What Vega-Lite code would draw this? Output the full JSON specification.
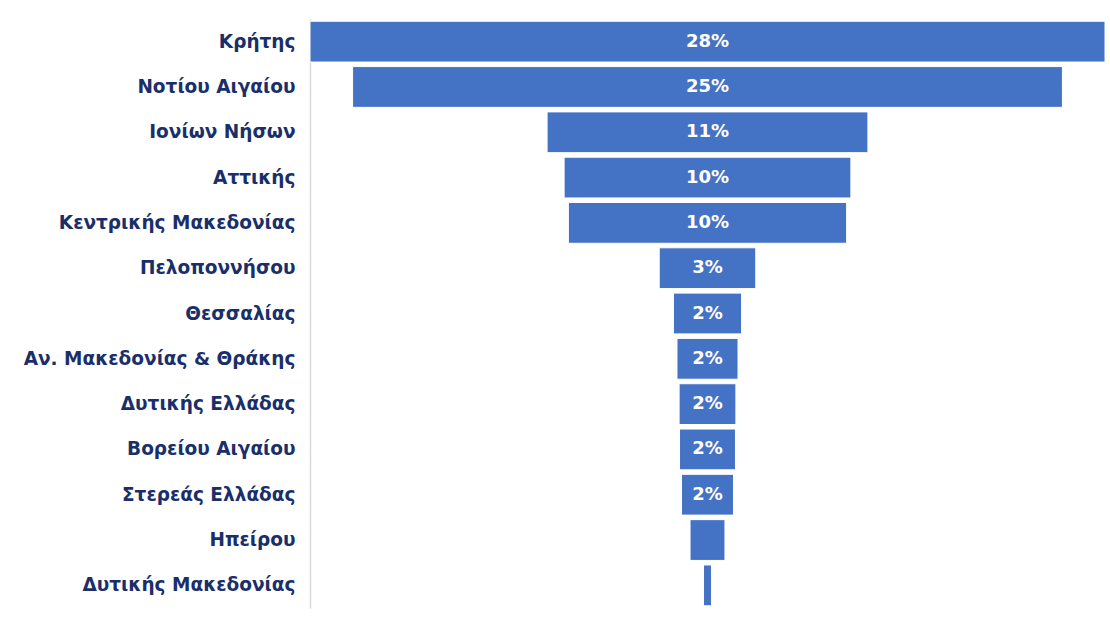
{
  "$schema": "https://vega.github.io/schema/vega-lite/v6.json",
  "width": 795,
  "height": 589,
  "autosize": {"type": "none"},
  "padding": {"left": 310, "top": 19, "right": 5, "bottom": 9},
  "background": "white",
  "config": {"view": {"stroke": null}},
  "data": {
    "values": [
      {"region": "Κρήτης", "value": 28, "label": "28%"},
      {"region": "Νοτίου Αιγαίου", "value": 25, "label": "25%"},
      {"region": "Ιονίων Νήσων", "value": 11.3, "label": "11%"},
      {"region": "Αττικής", "value": 10.1, "label": "10%"},
      {"region": "Κεντρικής Μακεδονίας", "value": 9.8, "label": "10%"},
      {"region": "Πελοποννήσου", "value": 3.4, "label": "3%"},
      {"region": "Θεσσαλίας", "value": 2.4, "label": "2%"},
      {"region": "Αν. Μακεδονίας & Θράκης", "value": 2.15, "label": "2%"},
      {"region": "Δυτικής Ελλάδας", "value": 2.0, "label": "2%"},
      {"region": "Βορείου Αιγαίου", "value": 1.97, "label": "2%"},
      {"region": "Στερεάς Ελλάδας", "value": 1.83, "label": "2%"},
      {"region": "Ηπείρου", "value": 1.23, "label": ""},
      {"region": "Δυτικής Μακεδονίας", "value": 0.28, "label": ""}
    ]
  },
  "encoding": {
    "y": {
      "field": "region",
      "type": "nominal",
      "sort": null,
      "scale": {"paddingInner": 0.1, "paddingOuter": 0.05},
      "axis": {
        "title": null,
        "ticks": false,
        "domain": true,
        "domainColor": "#d9d9d9",
        "domainWidth": 1.5,
        "labelFont": "DejaVu Sans",
        "labelFontWeight": "bold",
        "labelFontSize": 18.5,
        "labelColor": "#1a2f6a",
        "labelPadding": 15,
        "labelLimit": 400
      }
    }
  },
  "layer": [
    {
      "mark": {"type": "bar", "color": "#4472c4", "stroke": "white", "strokeWidth": 1},
      "encoding": {
        "x": {
          "field": "value",
          "type": "quantitative",
          "stack": "center",
          "scale": {"domain": [0, 28], "nice": false},
          "axis": null
        }
      }
    },
    {
      "mark": {"type": "text", "color": "white", "font": "DejaVu Sans", "fontWeight": "bold", "fontSize": 18},
      "encoding": {
        "x": {"datum": 14, "type": "quantitative"},
        "text": {"field": "label"}
      }
    }
  ]
}
